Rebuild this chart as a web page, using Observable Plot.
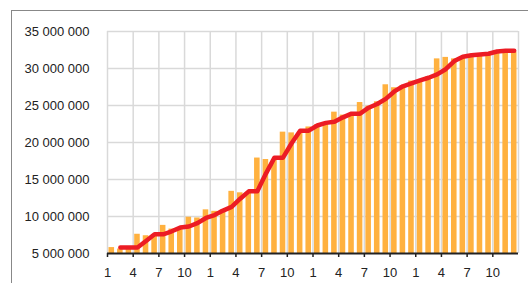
<!DOCTYPE html>
<html><head><meta charset="utf-8">
<script src="https://cdn.jsdelivr.net/npm/d3@7"></script>
<script src="https://cdn.jsdelivr.net/npm/@observablehq/plot@0.6"></script>
<style>
html,body{margin:0;padding:0;background:#fff;overflow:hidden}
#wrap{position:relative;width:528px;height:283px;overflow:hidden}
#frame{position:absolute;left:11px;top:10px;width:700px;height:500px;border:1.5px solid #888;box-sizing:border-box;pointer-events:none}
</style></head><body>
<div id="wrap"><div id="chart"></div><div id="frame"></div></div>
<script>
// month number of each bar (4 years, monthly)
const months = [1,2,3,4,5,6,7,8,9,10,11,12, 1,2,3,4,5,6,7,8,9,10,11,12, 1,2,3,4,5,6,7,8,9,10,11,12, 1,2,3,4,5,6,7,8,9,10,11,12];
const barValues = [
  5800000, 5600000, 5600000, 7600000, 7400000, 7400000, 8800000, 8300000, 8400000, 9900000, 9800000, 10900000,
  10700000, 10900000, 13400000, 13200000, 13200000, 17900000, 17700000, 17700000, 21400000, 21300000, 21400000, 22100000,
  22400000, 22700000, 24100000, 23700000, 23700000, 25400000, 24900000, 25500000, 27800000, 27400000, 27700000, 28300000,
  28500000, 28900000, 31300000, 31500000, 31300000, 31400000, 31500000, 31700000, 32000000, 32100000, 32200000, 32200000
];
const lineValues = [
  null, 5800000, 5800000, 5800000, 6700000, 7600000, 7600000, 8000000, 8500000, 8650000, 9100000, 9800000,
  10200000, 10800000, 11300000, 12400000, 13400000, 13400000, 15800000, 17950000, 17950000, 19900000, 21600000, 21600000,
  22300000, 22650000, 22800000, 23400000, 23900000, 23900000, 24700000, 25200000, 25900000, 26900000, 27600000, 28000000,
  28400000, 28750000, 29200000, 29900000, 31000000, 31600000, 31800000, 31900000, 32000000, 32300000, 32400000, 32400000
];
const xTickLabels = ["1","4","7","10","1","4","7","10","1","4","7","10","1","4","7","10"];
const yTicks = [5000000, 10000000, 15000000, 20000000, 25000000, 30000000, 35000000];

const bars = barValues.map((v, i) => ({i, month: months[i], v}));
const line = lineValues.map((v, i) => ({i, v})).filter(d => d.v != null);
const xTickPos = xTickLabels.map((_, k) => k * 3);
const xGrid = [...xTickPos, months.length];
const fmt = d => d3.format(",")(d).replace(/,/g, " ");

const chart = Plot.plot({
  width: 528, height: 283,
  marginTop: 31, marginBottom: 30, marginLeft: 107, marginRight: 10,
  style: {fontFamily: "'Liberation Sans', Arial, sans-serif", fontSize: "13px", color: "#222", background: "transparent"},
  x: {domain: [0, months.length], axis: null, label: null},
  y: {domain: [yTicks[0], yTicks[yTicks.length - 1]], axis: null, label: null},
  marks: [
    Plot.gridY(yTicks.slice(1), {stroke: "#d9d9d9", strokeOpacity: 1, strokeWidth: 1.5}),
    Plot.gridX(xGrid, {stroke: "#d9d9d9", strokeOpacity: 1, strokeWidth: 1.5}),
    Plot.rect(bars, {x1: "i", x2: d => d.i + 1, y1: yTicks[0], y2: "v", fill: "#ffb13f", insetLeft: 1.5, insetRight: 1.5}),
    Plot.line(line, {x: d => d.i + 0.5, y: "v", stroke: "#ec1c24", strokeWidth: 4.5, strokeLinejoin: "round"}),
    Plot.ruleY([yTicks[0]], {stroke: "#222", strokeWidth: 2}),
    Plot.axisY({ticks: yTicks, tickSize: 0, tickPadding: 18, tickFormat: fmt, fill: "#222", label: null}),
    Plot.axisX({ticks: xTickPos, tickSize: 4, tickPadding: 10, stroke: "#222", strokeWidth: 1.5, fill: "#222", tickFormat: d => xTickLabels[d / 3], label: null})
  ]
});
document.getElementById("chart").appendChild(chart);
</script>
</body></html>
